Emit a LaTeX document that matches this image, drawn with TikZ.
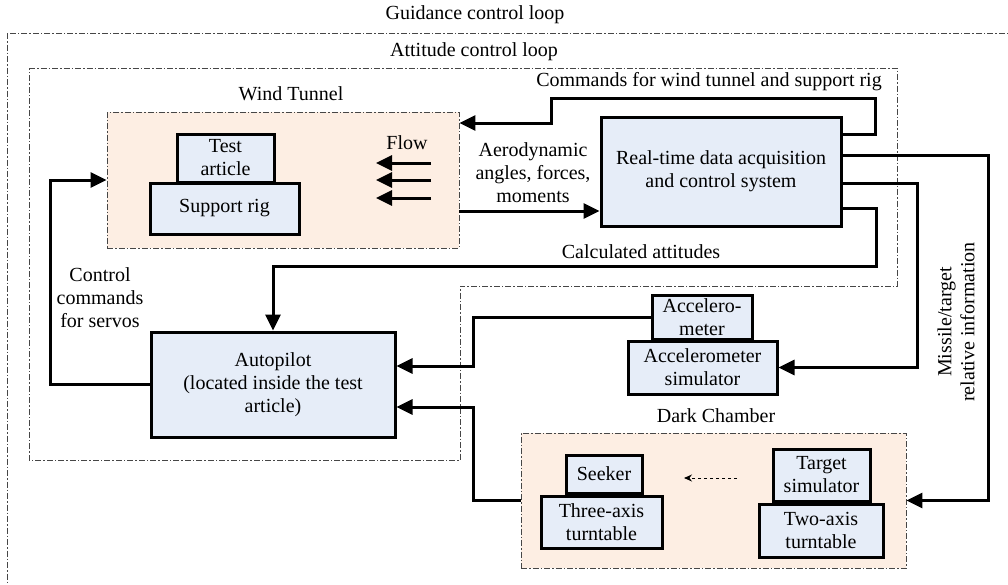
\documentclass[tikz,border=0pt]{standalone}
\usepackage{fontspec}
\setmainfont{Liberation Serif}
\newfontfamily\timesfont{Liberation Serif}
\usetikzlibrary{arrows.meta}

\definecolor{boxblue}{RGB}{230,237,248}
\definecolor{roompeach}{RGB}{253,238,227}
\definecolor{loopgray}{RGB}{70,70,70}

\tikzstyle{block} = [draw=black, line width=3pt, fill=boxblue, align=center, inner sep=0pt]
\tikzstyle{room} = [draw=loopgray, line width=0.9pt, fill=roompeach, dash pattern=on 6pt off 2pt on 1.5pt off 2pt, inner sep=0pt]
\tikzstyle{loopline} = [draw=loopgray, line width=0.9pt, dash pattern=on 6pt off 2pt on 1.5pt off 2pt]
\tikzstyle{arr} = [line width=3pt, -{Triangle[length=16pt,width=15pt]}]
\tikzstyle{label} = [align=center, inner sep=0pt]

\begin{document}
\begin{tikzpicture}[x=1pt, y=-1pt, font=\timesfont\fontsize{20}{23}\selectfont]
       \clip (0,0) rectangle (1008,584);

       \draw[loopline] (7,33) rectangle (1040,620);
       \draw[loopline] (29,68) -- (897,68) -- (897,286) -- (460,286) -- (460,460) -- (29,460) -- cycle;

       \node[label] (guidance) at (475,15) {Guidance control loop};
       \node[label] (attitude) at (474,52) {Attitude control loop};

       \node[room, minimum width=352pt, minimum height=136pt] (wind) at (283,180) {};
       \node[label] (windlbl) at (291,94) {Wind Tunnel};
       \node[room, minimum width=385pt, minimum height=135pt] (dark) at (713.5,500.5) {};
       \node[label] (darklbl) at (716,416) {Dark Chamber};

       \node[block, minimum width=97pt, minimum height=48pt] (test) at (225.5,158) {Test\\article};
       \node[block, minimum width=149pt, minimum height=51pt] (rig) at (224.5,208.5) {Support rig};
       \node[block, minimum width=240pt, minimum height=109pt] (rtdaq) at (721,171.5) {Real-time data acquisition\\and control system};
       \node[block, minimum width=244pt, minimum height=105pt] (autopilot) at (273,384.5) {Autopilot\\(located inside the test\\article)};
       \node[block, minimum width=100pt, minimum height=44pt] (accel) at (702,317) {Accelero-\\meter};
       \node[block, minimum width=149pt, minimum height=53pt] (accsim) at (702.5,367.5) {Accelerometer\\simulator};
       \node[block, minimum width=76pt, minimum height=38pt] (seeker) at (604,474) {Seeker};
       \node[block, minimum width=121pt, minimum height=52pt] (threeaxis) at (601.5,522) {Three-axis\\turntable};
       \node[block, minimum width=97pt, minimum height=52pt] (target) at (821.5,475) {Target\\simulator};
       \node[block, minimum width=124pt, minimum height=53pt] (twoaxis) at (821,530.5) {Two-axis\\turntable};

       \node[label] (flow) at (407,143) {Flow};
       \foreach \y in {163,180,198}
          \draw[arr] (431,\y) -- (376,\y);
       \draw[line width=1pt, dashed, -{Stealth[length=8pt,width=7pt]}] (737,478) -- (684,478);

       \node[label] (cmdlbl) at (709,82) {Commands for wind tunnel and support rig};
       \node[label] (aerolbl) at (533,173) {Aerodynamic\\angles, forces,\\moments};
       \node[label] (calclbl) at (641,252) {Calculated attitudes};
       \node[label] (servolbl) at (100,297.5) {Control\\commands\\for servos};
       \node[label, rotate=90] (mtlbl) at (956,322) {Missile/target\\relative information};

       \draw[arr] ([yshift=37.5pt]rtdaq.east) -| (875,98) -| (551,123) -- ([yshift=57pt]wind.east);
       \draw[arr] ([yshift=-31pt]wind.east) -- ([yshift=-39.5pt]rtdaq.west);
       \draw[arr] ([yshift=-36.5pt]rtdaq.east) -| (876,266) -| (autopilot.north);
       \draw[arr] ([yshift=16.5pt]rtdaq.east) -| (988,500.5) -- (dark.east);
       \draw[arr] ([yshift=-11.5pt]rtdaq.east) -| (917,367.5) -- (accsim.east);
       \draw[arr] (accel.west) -| (473,366) -- ([yshift=18.5pt]autopilot.east);
       \draw[arr] (dark.west) -| (473,407) -- ([yshift=-22.5pt]autopilot.east);
       \draw[arr] (autopilot.west) -| (50,180) -- (wind.west);
     \end{tikzpicture}
\end{document}
